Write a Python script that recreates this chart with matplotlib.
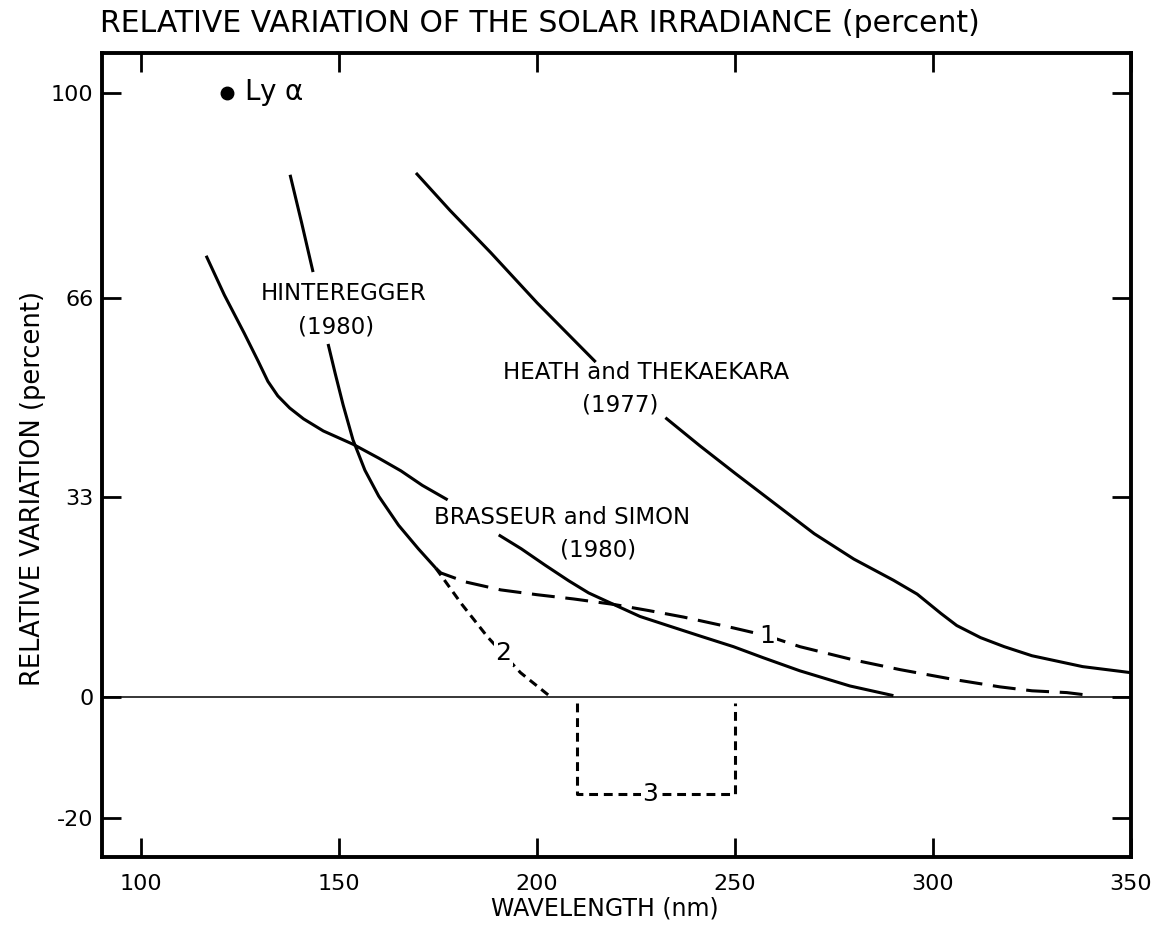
import matplotlib
matplotlib.use("Agg")
import matplotlib.pyplot as plt

plt.rcParams['axes.unicode_minus'] = False

# Hinteregger (1980), solid, broken around its label
hint_x1 = [137.6, 140.5, 143.4]
hint_y1 = [86.4, 78.5, 70.3]
hint_x2 = [147.2, 149.0, 151.0, 153.5, 156.5, 160.0, 165.0, 170.0, 174.4]
hint_y2 = [58.4, 53.5, 48.3, 42.5, 37.5, 33.2, 28.4, 24.5, 21.3]

# Brasseur and Simon (1980)
bras_x1 = [116.4, 121.0, 126.0, 129.5, 132.0, 134.5, 137.5, 141.0, 146.0, 153.5, 160.0,
           165.6, 171.0, 177.4]
bras_y1 = [73.0, 66.5, 60.2, 55.6, 52.2, 49.8, 47.8, 46.0, 44.0, 41.8, 39.5,
           37.4, 35.0, 32.6]
bras_x2 = [190.3, 196.0, 202.0, 208.0, 213.0, 219.3, 226.0, 233.0, 241.0, 249.6, 257.0,
           266.4, 279.0, 290.0]
bras_y2 = [26.8, 24.5, 21.8, 19.2, 17.2, 15.3, 13.3, 11.8, 10.1, 8.3, 6.5,
           4.3, 1.8, 0.2]

# Heath and Thekaekara (1977)
heat_x1 = [169.4, 178.0, 188.3, 200.0, 214.8]
heat_y1 = [86.7, 80.5, 73.5, 65.2, 55.4]
heat_x2 = [232.4, 241.2, 250.0, 260.0, 270.0, 280.0, 290.0, 296.0, 302.0, 306.0, 312.0,
           318.0, 325.0, 337.8, 350.0]
heat_y2 = [46.2, 41.5, 37.0, 32.0, 27.0, 22.8, 19.3, 17.0, 13.8, 11.8, 9.8,
           8.3, 6.8, 5.0, 4.0]

# extrapolations 1, 2, 3
c1_x = [174.4, 175.7, 182.0, 190.8, 200.0, 209.2, 219.3, 228.0, 237.0, 249.6, 258.1, 266.4,
        280.0, 291.7, 305.0, 316.9, 325.0, 333.8, 338.8]
c1_y = [21.3, 20.5, 19.0, 17.7, 16.9, 16.2, 15.3, 14.3, 13.2, 11.4, 10.1, 8.3,
        6.1, 4.5, 2.9, 1.65, 1.0, 0.7, 0.3]
c2_x = [174.4, 181.0, 187.5, 195.8, 203.4]
c2_y = [21.3, 15.3, 9.9, 4.0, 0.0]
c3_x = [210, 210, 250, 250]
c3_y = [-1, -16, -16, -1]

lya_x = [121.6]
lya_y = [100]

xticks = [100, 150, 200, 250, 300, 350]
yticks = [-20, 0, 33, 66, 100]

fig = plt.figure(figsize=(11.59, 9.38), dpi=100)
ax = fig.add_axes([0.0877, 0.0864, 0.9758 - 0.0877, 0.9438 - 0.0864])

lw = 2.2
ax.axhline(0, color='black', lw=1.1)
for xs, ys in [(hint_x1, hint_y1), (hint_x2, hint_y2), (bras_x1, bras_y1),
               (bras_x2, bras_y2), (heat_x1, heat_y1), (heat_x2, heat_y2)]:
    ax.plot(xs, ys, color='black', lw=lw, solid_capstyle='butt', solid_joinstyle='round')
ax.plot(c1_x, c1_y, color='black', lw=lw, dashes=(7.5, 3.5))
ax.plot(c2_x, c2_y, color='black', lw=lw, dashes=(2.9, 1.9))
ax.plot(c3_x, c3_y, color='black', lw=lw, dashes=(2.9, 1.9))
ax.plot(lya_x, lya_y, 'o', color='black', ms=9)

fs = 16.5
ax.text(126.0, 100, r'Ly $\mathregular{\alpha}$', fontsize=20, va='center', ha='left')
ax.text(151, 66.7, 'HINTEREGGER', fontsize=fs, ha='center', va='center')
ax.text(149.2, 61.2, '(1980)', fontsize=fs, ha='center', va='center')
ax.text(227.4, 53.6, 'HEATH and THEKAEKARA', fontsize=fs, ha='center', va='center')
ax.text(221, 48.3, '(1977)', fontsize=fs, ha='center', va='center')
ax.text(206.2, 29.6, 'BRASSEUR and SIMON', fontsize=fs, ha='center', va='center')
ax.text(215.5, 24.3, '(1980)', fontsize=fs, ha='center', va='center')

box = dict(facecolor='white', edgecolor='none', pad=1)
ax.text(258.1, 10.1, '1', fontsize=18, ha='center', va='center', bbox=box)
ax.text(191.5, 7.3, '2', fontsize=18, ha='center', va='center', bbox=box)
ax.text(228.6, -16, '3', fontsize=18, ha='center', va='center', bbox=box)

ax.set_xlim(90, 350)
ax.set_ylim(-26.5, 106.6)
ax.set_xticks(xticks)
ax.set_yticks(yticks)
ax.tick_params(direction='in', length=14, width=2, top=True, right=True, labelsize=16)
ax.tick_params(axis='x', pad=12)
ax.tick_params(axis='y', pad=6)
for s in ax.spines.values():
    s.set_linewidth(2.8)

fig.text(100 / 1159, 1 - 23 / 938, 'RELATIVE VARIATION OF THE SOLAR IRRADIANCE (percent)',
         fontsize=21.5, ha='left', va='center')
fig.text(605 / 1159, 1 - 908 / 938, 'WAVELENGTH (nm)', fontsize=17, ha='center', va='center')
fig.text(33 / 1159, 1 - 488 / 938, 'RELATIVE VARIATION (percent)', fontsize=18.5,
         ha='center', va='center', rotation=90)

fig.savefig('out.png', dpi=100)
